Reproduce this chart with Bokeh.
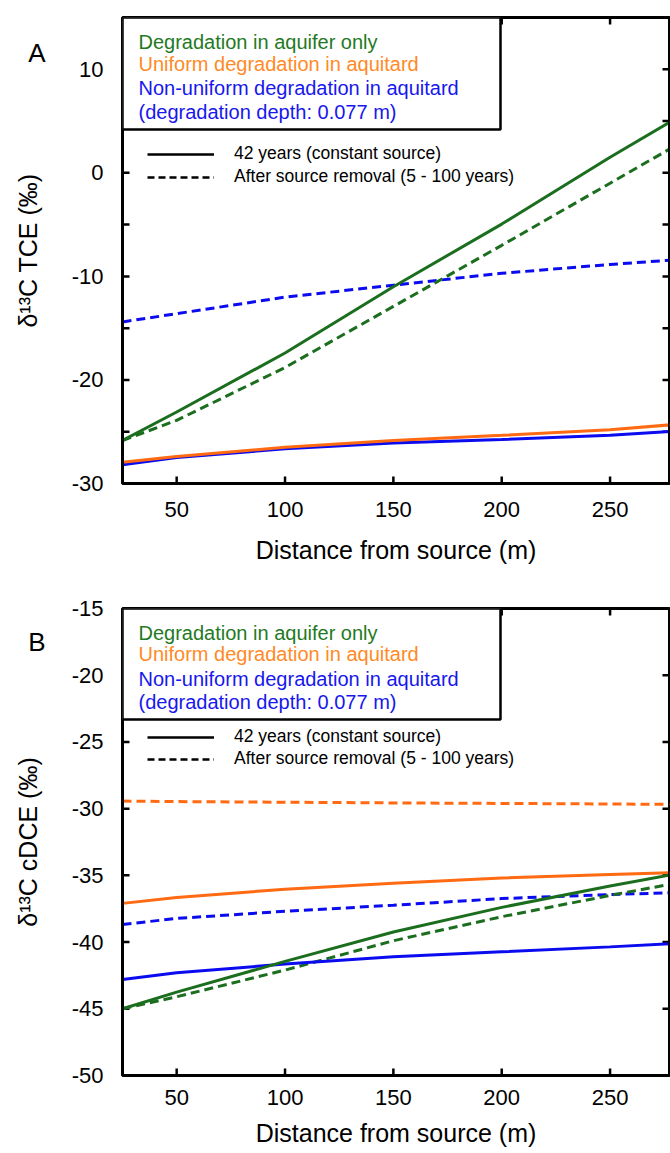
from bokeh.plotting import figure
from bokeh.models import (Range1d, FixedTicker, Label, BoxAnnotation, LinearAxis,
                          Legend, LegendItem, ColumnDataSource, CustomJSTickFormatter)
from bokeh.layouts import column
from bokeh.embed import file_html
from bokeh.resources import INLINE

# ---------------- data ----------------
dist = [25, 50, 100, 150, 200, 250, 280]

# Panel A: d13C TCE
tce_aquifer_42 = [-25.85, -23.1, -17.4, -11.0, -4.95, 1.5, 5.2]
tce_aquifer_removal = [-25.85, -23.9, -18.8, -12.9, -7.0, -1.0, 2.6]
tce_uniform_42 = [-27.95, -27.4, -26.5, -25.85, -25.35, -24.8, -24.3]
tce_nonuniform_42 = [-28.2, -27.5, -26.65, -26.1, -25.75, -25.35, -24.95]
tce_nonuniform_removal = [-14.4, -13.6, -12.0, -10.85, -9.7, -8.85, -8.4]

# Panel B: d13C cDCE
dce_aquifer_42 = [-45.0, -43.75, -41.45, -39.24, -37.4, -35.8, -34.9]
dce_aquifer_removal = [-45.0, -44.1, -42.1, -39.9, -38.1, -36.5, -35.6]
dce_uniform_42 = [-37.1, -36.66, -36.04, -35.6, -35.2, -34.94, -34.79]
dce_uniform_removal = [-29.43, -29.47, -29.52, -29.57, -29.61, -29.65, -29.68]
dce_nonuniform_42 = [-42.8, -42.3, -41.65, -41.1, -40.73, -40.36, -40.1]
dce_nonuniform_removal = [-38.68, -38.23, -37.69, -37.24, -36.74, -36.44, -36.29]

x_ticks = [50, 100, 150, 200, 250]
a_y_ticks = [-30, -20, -10, 0, 10]
a_y_minor = [-25, -15, -5, 5]
b_y_ticks = [-50, -45, -40, -35, -30, -25, -20, -15]

legend_texts = ["Degradation in aquifer only",
                "Uniform degradation in aquitard",
                "Non-uniform degradation in aquitard",
                "(degradation depth: 0.077 m)"]
line_legend = ["42 years (constant source)", "After source removal (5 - 100 years)"]
x_title = "Distance from source (m)"

# ---------------- style ----------------
FONT = "Liberation Sans"
GREEN, ORANGE, BLUE = "#1b6e1e", "#ff6a12", "#0b0bef"
TEXT_COLORS = ["#1f7a24", "#ff8a26", "#1717ee", "#1717ee"]
DASH = "9 5"
FRAME_W = 547
LEFT_BORDER = 122
X_LO, X_HI = 25, 25 + FRAME_W / 2.167
TICK_PX = 7


def style_axis(ax):
    ax.axis_line_color = None
    ax.major_tick_in = 0
    ax.major_tick_out = 0
    ax.minor_tick_in = 0
    ax.minor_tick_out = 0
    ax.major_label_text_font = FONT
    ax.major_label_text_color = "black"
    ax.major_label_text_font_size = "22px"
    ax.axis_label_text_font = FONT
    ax.axis_label_text_font_size = "25px"
    ax.axis_label_text_font_style = "normal"
    ax.axis_label_text_color = "black"


def make_panel(letter, ylabel, y_lo, y_hi, y_ticks, y_minor, series, frame_h,
               top_border, bottom_border, rows, box_bottom, leg_top, leg_spacing,
               letter_off, xlab_standoff, xtitle_standoff):
    p = figure(frame_width=FRAME_W, frame_height=frame_h,
               x_range=Range1d(X_LO, X_HI), y_range=Range1d(y_lo, y_hi),
               output_backend="svg", toolbar_location=None,
               min_border_left=LEFT_BORDER, min_border_right=1,
               min_border_top=top_border, min_border_bottom=bottom_border,
               background_fill_color=None, border_fill_color="white",
               outline_line_color="black", outline_line_width=3)
    p.xgrid.visible = False
    p.ygrid.visible = False

    xa = p.xaxis[0]
    xa.ticker = FixedTicker(ticks=x_ticks)
    style_axis(xa)
    xa.axis_label = x_title
    xa.major_label_standoff = xlab_standoff
    xa.axis_label_standoff = xtitle_standoff
    xa.major_label_overrides = {t: f"{t:g}" for t in x_ticks}

    ya = p.yaxis[0]
    ya.ticker = FixedTicker(ticks=y_ticks)
    style_axis(ya)
    ya.major_label_standoff = 19
    ya.major_label_overrides = {t: f"{t:g}" for t in y_ticks}

    # outer left axis: carries the panel letter (as its only label) and the y title
    letter_y = y_hi - letter_off * (y_hi - y_lo) / frame_h
    la = LinearAxis(ticker=FixedTicker(ticks=[letter_y]),
                    formatter=CustomJSTickFormatter(code=f"return '{letter}';"))
    style_axis(la)
    la.major_label_text_font_size = "26px"
    la.major_label_standoff = 23
    la.axis_label = ylabel
    la.axis_label_standoff = -17
    p.add_layout(la, "left")

    # inward tick marks on all four sides (from the tick lists)
    dy = TICK_PX * (y_hi - y_lo) / frame_h
    dx = TICK_PX * (X_HI - X_LO) / FRAME_W
    all_y = list(y_ticks) + list(y_minor)
    xt = ColumnDataSource(dict(
        x0=x_ticks + x_ticks, x1=x_ticks + x_ticks,
        y0=[y_lo] * len(x_ticks) + [y_hi] * len(x_ticks),
        y1=[y_lo + dy] * len(x_ticks) + [y_hi - dy] * len(x_ticks)))
    yt = ColumnDataSource(dict(
        y0=all_y + all_y, y1=all_y + all_y,
        x0=[X_LO] * len(all_y) + [X_HI] * len(all_y),
        x1=[X_LO + dx] * len(all_y) + [X_HI - dx] * len(all_y)))
    p.segment("x0", "y0", "x1", "y1", source=xt, line_color="black", line_width=2.5)
    p.segment("x0", "y0", "x1", "y1", source=yt, line_color="black", line_width=2.5)

    for ys, color, dash in series:
        p.line(dist, ys, line_color=color, line_width=3, line_dash=dash)

    # frame border
    p.add_layout(BoxAnnotation(left=X_LO, right=X_HI, bottom=y_lo, top=y_hi,
                               fill_alpha=0, line_color="black", line_alpha=1.0,
                               line_width=3))

    # colored legend box
    box = BoxAnnotation(left=0, right=378, top=frame_h, bottom=frame_h - box_bottom,
                        left_units="screen", right_units="screen",
                        top_units="screen", bottom_units="screen",
                        fill_color="white", fill_alpha=1.0,
                        line_color="black", line_alpha=1.0, line_width=2.5)
    p.add_layout(box)
    for txt, col, off in zip(legend_texts, TEXT_COLORS, rows):
        p.add_layout(Label(x=16, y=frame_h - off, x_units="screen", y_units="screen",
                           text=txt, text_color=col, text_font=FONT,
                           text_font_size="20px", text_baseline="middle",
                           text_align="left"))

    # line-style legend
    nan = float("nan")
    r_solid = p.line([nan], [nan], line_color="black", line_width=2.5)
    r_dash = p.line([nan], [nan], line_color="black", line_width=2.5, line_dash="7 4")
    leg_h = 40 + leg_spacing
    legend = Legend(items=[LegendItem(label=line_legend[0], renderers=[r_solid]),
                           LegendItem(label=line_legend[1], renderers=[r_dash])],
                    location=(25, frame_h - leg_top - leg_h),
                    border_line_color=None, background_fill_alpha=0,
                    padding=0, margin=0, spacing=leg_spacing,
                    glyph_width=67, glyph_height=20, label_height=20,
                    label_standoff=20, label_text_font=FONT,
                    label_text_font_size="17.5px", label_text_color="black")
    p.add_layout(legend)
    return p


series_a = [
    (tce_nonuniform_removal, BLUE, DASH),
    (tce_aquifer_removal, GREEN, DASH),
    (tce_nonuniform_42, BLUE, "solid"),
    (tce_uniform_42, ORANGE, "solid"),
    (tce_aquifer_42, GREEN, "solid"),
]
series_b = [
    (dce_uniform_removal, ORANGE, DASH),
    (dce_nonuniform_removal, BLUE, DASH),
    (dce_aquifer_removal, GREEN, DASH),
    (dce_nonuniform_42, BLUE, "solid"),
    (dce_uniform_42, ORANGE, "solid"),
    (dce_aquifer_42, GREEN, "solid"),
]

pa = make_panel("A", "δ¹³C TCE (‰)", -30, 15, a_y_ticks, a_y_minor, series_a, 466,
                17, 111, [24.7, 46, 70, 94], 112, 128, 2, 35, 18, 16)
pb = make_panel("B", "δ¹³C cDCE (‰)", -50, -15, b_y_ticks, [], series_b, 467,
                14, 78, [24, 45, 70, 93], 111, 120, 1, 33, 14, 11)

layout = column(pa, pb)
open("out.html", "w").write(file_html(layout, INLINE))
